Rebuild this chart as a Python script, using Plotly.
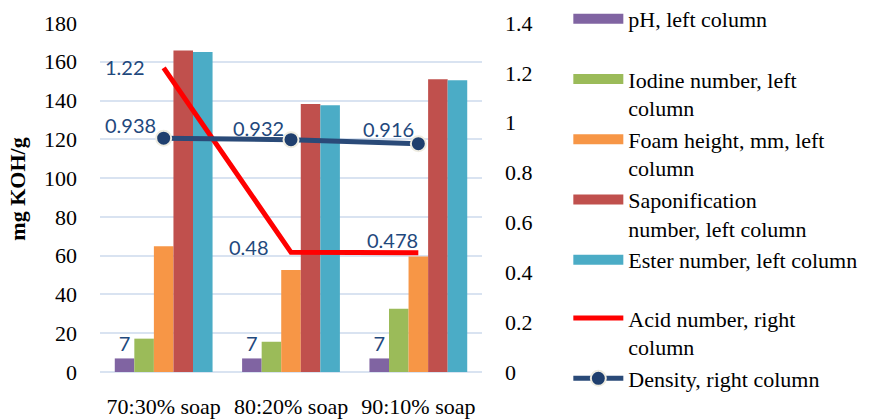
import plotly.graph_objects as go

# Soap blends and measured properties
categories = ["70:30% soap", "80:20% soap", "90:10% soap"]
ph = [7, 7, 7]
iodine = [17.2, 15.6, 32.6]
foam = [64.8, 52.6, 59.6]
saponification = [165.8, 138.2, 151.0]
ester = [165.0, 137.6, 150.5]
acid = [1.22, 0.48, 0.478]
density = [0.938, 0.932, 0.916]

left_ticks = list(range(0, 181, 20))
right_ticks = [0, 0.2, 0.4, 0.6, 0.8, 1, 1.2, 1.4]
right_tick_text = ["0", "0.2", "0.4", "0.6", "0.8", "1", "1.2", "1.4"]

SERIF = "Times New Roman, Liberation Serif, serif"
LABEL_FONT = dict(family="Lato", size=20, color="#1F497D")

bar_series = [
    ("pH, left column<br> ", ph, "#8064A2"),
    ("Iodine number, left<br>column", iodine, "#9BBB59"),
    ("Foam height, mm, left<br>column", foam, "#F79646"),
    ("Saponification<br>number, left column", saponification, "#C0504D"),
    ("Ester number, left column", ester, "#4BACC6"),
]

fig = go.Figure()

for i, (name, vals, color) in enumerate(bar_series):
    kwargs = {}
    if i == 0:
        kwargs = dict(text=[f"{v:g}" for v in vals], textposition="outside",
                      textfont=LABEL_FONT, constraintext="none", cliponaxis=False)
    fig.add_trace(go.Bar(x=categories, y=vals, marker=dict(color=color, line=dict(width=0)),
                         showlegend=False, yaxis="y", **kwargs))

# Legend keys for the bar series (wide flat swatches)
for name, vals, color in bar_series:
    fig.add_trace(go.Scatter(x=[None], y=[None], mode="lines", name=name,
                             line=dict(color=color, width=10), legend="legend"))

fig.add_trace(go.Scatter(x=categories, y=acid, mode="lines", yaxis="y2",
                         name="Acid number, right<br>column", legend="legend2",
                         line=dict(color="#FF0000", width=5), cliponaxis=False))
fig.add_trace(go.Scatter(x=categories, y=density, mode="lines+markers", yaxis="y2",
                         name="Density, right column", legend="legend2",
                         line=dict(color="#2A4A78", width=5),
                         marker=dict(size=15, color="#1F3F6E",
                                     line=dict(color="#EEECE1", width=2)),
                         cliponaxis=False))

# Value labels for the two line series
acid_offsets = [(-17, 1), (-20, 5), (2, 13)]
density_offsets = [(-6, 13), (-5, 12), (-2, 15)]
annotations = []
for vals, offs in ((acid, acid_offsets), (density, density_offsets)):
    for c, v, (dx, dy) in zip(categories, vals, offs):
        annotations.append(dict(x=c, y=v, xref="x", yref="y2", text=f"{v:g}",
                                showarrow=False, xanchor="right", yanchor="middle",
                                xshift=dx, yshift=dy, font=LABEL_FONT))

annotations.append(dict(x=-0.215, y=0.525, xref="paper", yref="paper", text="<b>mg KOH/g</b>",
                        showarrow=False, textangle=-90, xanchor="center", yanchor="middle",
                        font=dict(family=SERIF, size=22, color="#000000")))

legend_common = dict(xanchor="left", font=dict(family=SERIF, size=22, color="#000000"),
                     itemwidth=50, valign="top", tracegroupgap=0, traceorder="normal",
                     bgcolor="rgba(0,0,0,0)", borderwidth=0)

grid_color = "#D9E3F1"
tick_font = dict(family=SERIF, size=22, color="#000000")
fig.update_layout(
    width=872, height=419,
    margin=dict(l=100, r=390, t=23, b=47, autoexpand=False),
    paper_bgcolor="white", plot_bgcolor="white",
    barmode="group", bargap=0.232, bargroupgap=0,
    font=dict(family=SERIF, size=22, color="#000000"),
    showlegend=True,
    legend=dict(x=1.226, y=0.666, yanchor="middle", **legend_common),
    legend2=dict(x=1.226, y=0.214, yanchor="top", **legend_common),
    xaxis=dict(type="category", categoryorder="array", categoryarray=categories,
               showgrid=False, zeroline=False, showline=False, ticks="",
               tickfont=tick_font, ticklabelstandoff=19),
    yaxis=dict(range=[0, 180], tickvals=left_ticks, showgrid=True, gridcolor=grid_color,
               gridwidth=2, zeroline=True, zerolinecolor=grid_color, zerolinewidth=2,
               showline=False, ticks="", ticklabelstandoff=22, tickfont=tick_font),
    yaxis2=dict(range=[0, 1.4], overlaying="y", side="right", tickvals=right_ticks,
                ticktext=right_tick_text, showgrid=False, zeroline=False, showline=False,
                ticks="", ticklabelstandoff=22, tickfont=tick_font),
    annotations=annotations,
)

fig.write_html("out.html")
